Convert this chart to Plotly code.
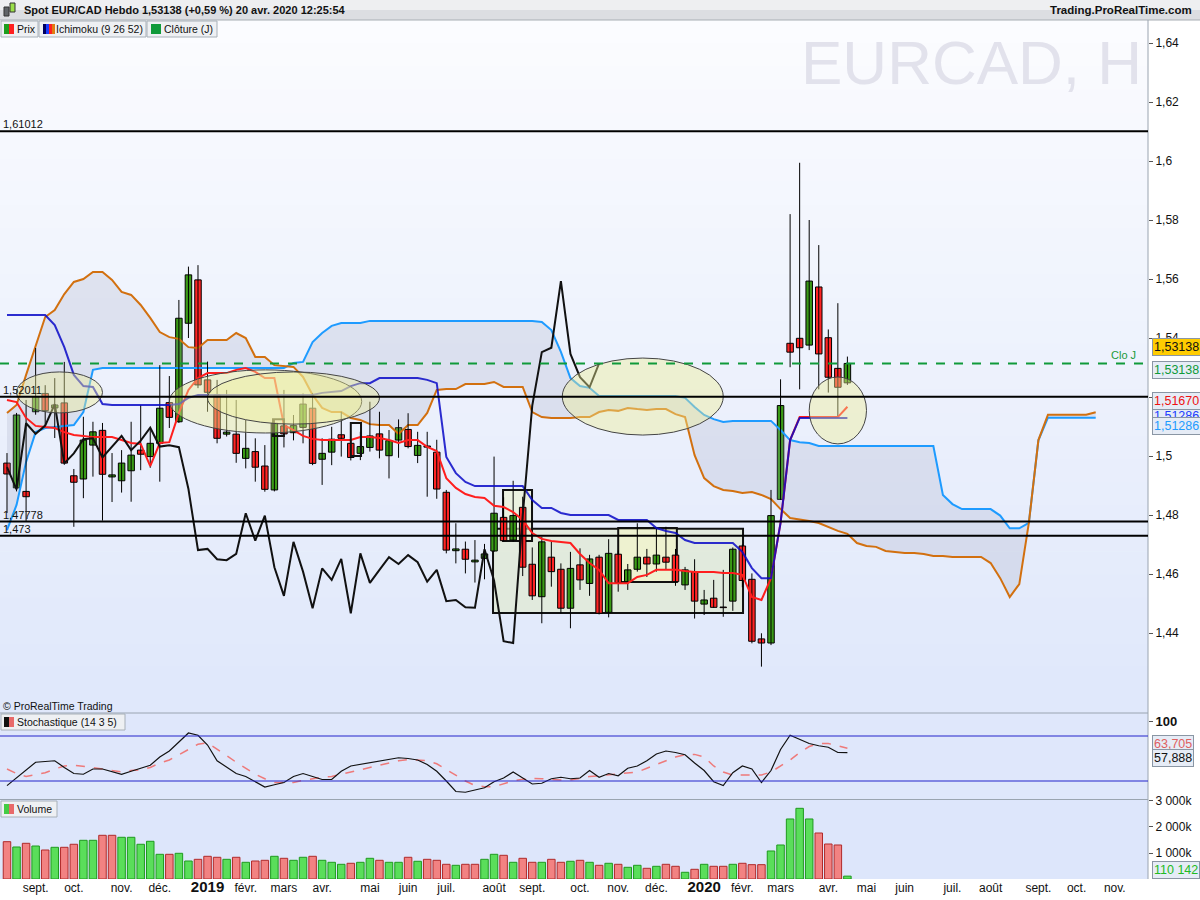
import plotly.graph_objects as go
import pandas as pd

# weekly EUR/CAD candles, week of 13 Aug 2018 -> week of 20 Apr 2020
opens = [1.4976, 1.4892, 1.4880, 1.5150, 1.5212, 1.5163, 1.5180, 1.4933, 1.4922, 1.5037,
         1.5087, 1.4929, 1.4916, 1.4950, 1.5020, 1.4998, 1.5043, 1.5181, 1.5116, 1.5450,
         1.5597, 1.5258, 1.5207, 1.5074, 1.5074, 1.4992, 1.5015, 1.4966, 1.4885, 1.5102,
         1.5079, 1.5097, 1.5162, 1.4989, 1.5013, 1.5072, 1.5043, 1.5009, 1.5029, 1.5075,
         1.5001, 1.5054, 1.5090, 1.5002, 1.5034, 1.5013, 1.4877, 1.4679, 1.4684, 1.4641,
         1.4653, 1.4678, 1.4792, 1.4715, 1.4826, 1.4633, 1.4523, 1.4657, 1.4616, 1.4484,
         1.4631, 1.4568, 1.4657, 1.4470, 1.4667, 1.4574, 1.4616, 1.4657, 1.4634, 1.4657,
         1.4664, 1.4563, 1.4608, 1.4498, 1.4518, 1.4488, 1.4508, 1.4695, 1.4582, 1.4380,
         1.4366, 1.4853, 1.5382, 1.5399, 1.5376, 1.5573, 1.5401, 1.5297, 1.5248]
highs = [1.5010, 1.5146, 1.5190, 1.5366, 1.5240, 1.5264, 1.5319, 1.4956, 1.5133, 1.5116,
         1.5112, 1.5010, 1.5020, 1.5116, 1.5173, 1.5090, 1.5308, 1.5271, 1.5529, 1.5642,
         1.5647, 1.5320, 1.5258, 1.5224, 1.5190, 1.5122, 1.5060, 1.5037, 1.5122, 1.5224,
         1.5139, 1.5212, 1.5213, 1.5060, 1.5099, 1.5150, 1.5053, 1.5082, 1.5184, 1.5150,
         1.5088, 1.5124, 1.5145, 1.5082, 1.5082, 1.5055, 1.4885, 1.4772, 1.4710, 1.4715,
         1.4702, 1.4998, 1.4860, 1.4916, 1.4862, 1.4690, 1.4726, 1.4709, 1.4636, 1.4675,
         1.4687, 1.4665, 1.4665, 1.4718, 1.4680, 1.4634, 1.4772, 1.4685, 1.4755, 1.4760,
         1.4685, 1.4624, 1.4650, 1.4546, 1.4580, 1.4614, 1.4690, 1.4700, 1.4602, 1.4399,
         1.4885, 1.5260, 1.5820, 1.5994, 1.5800, 1.5715, 1.5429, 1.5518, 1.5337]
lows = [1.4807, 1.4880, 1.4780, 1.5140, 1.5105, 1.5061, 1.4970, 1.4760, 1.4857, 1.4930,
        1.4781, 1.4844, 1.4876, 1.4845, 1.4952, 1.4960, 1.4913, 1.5095, 1.5112, 1.5400,
        1.5230, 1.5150, 1.5043, 1.5066, 1.4977, 1.4958, 1.4913, 1.4879, 1.4880, 1.5029,
        1.5053, 1.5043, 1.4969, 1.4902, 1.4969, 1.4998, 1.4985, 1.4986, 1.5015, 1.4992,
        1.4924, 1.4994, 1.5026, 1.4976, 1.4862, 1.4855, 1.4670, 1.4636, 1.4602, 1.4571,
        1.4582, 1.4675, 1.4710, 1.4709, 1.4593, 1.4512, 1.4433, 1.4557, 1.4467, 1.4416,
        1.4546, 1.4526, 1.4463, 1.4453, 1.4540, 1.4546, 1.4608, 1.4590, 1.4608, 1.4615,
        1.4560, 1.4546, 1.4449, 1.4461, 1.4485, 1.4455, 1.4475, 1.4555, 1.4365, 1.4286,
        1.4359, 1.4851, 1.5301, 1.5226, 1.5359, 1.5226, 1.5215, 1.5133, 1.5241]
closes = [1.4939, 1.5139, 1.4862, 1.5201, 1.5154, 1.5173, 1.4976, 1.4911, 1.5054, 1.5082,
          1.4938, 1.4936, 1.4976, 1.5003, 1.5006, 1.5043, 1.5162, 1.5131, 1.5467, 1.5614,
          1.5241, 1.5216, 1.5060, 1.5081, 1.5009, 1.5026, 1.4962, 1.4887, 1.5111, 1.5075,
          1.5103, 1.5176, 1.4975, 1.5009, 1.5057, 1.5060, 1.4995, 1.5032, 1.5068, 1.5020,
          1.5052, 1.5096, 1.5032, 1.5036, 1.5030, 1.4888, 1.4681, 1.4685, 1.4650, 1.4647,
          1.4668, 1.4806, 1.4713, 1.4798, 1.4623, 1.4526, 1.4709, 1.4608, 1.4484, 1.4619,
          1.4580, 1.4651, 1.4467, 1.4670, 1.4570, 1.4614, 1.4657, 1.4634, 1.4664, 1.4640,
          1.4574, 1.4614, 1.4508, 1.4512, 1.4487, 1.4486, 1.4684, 1.4578, 1.4372, 1.4366,
          1.4798, 1.5171, 1.5352, 1.5367, 1.5593, 1.5346, 1.5267, 1.5233, 1.53138]
volumes = [1435000, 1231000, 1373000, 1269000, 1115000, 1219000, 1219000, 1335000, 1488000, 1488000,
           1680000, 1680000, 1604000, 1604000, 1335000, 1450000, 950000, 950000, 988000, 692000,
           757000, 873000, 835000, 757000, 835000, 642000, 692000, 719000, 873000, 796000,
           719000, 835000, 873000, 719000, 642000, 565000, 604000, 642000, 796000, 719000,
           642000, 642000, 835000, 681000, 757000, 719000, 565000, 527000, 565000, 565000,
           757000, 950000, 911000, 642000, 796000, 642000, 642000, 757000, 642000, 681000,
           719000, 642000, 527000, 604000, 565000, 450000, 527000, 411000, 488000, 565000,
           488000, 258000, 373000, 565000, 488000, 488000, 565000, 604000, 551000, 551000,
           1077000, 1308000, 2308000, 2718000, 2308000, 1769000, 1346000, 1308000, 110142]

# stochastic (14 3 5)
stoch_k = [13.8, 24, 35, 45, 46, 47, 38, 30, 29, 36,
           36, 33, 29, 33, 37, 41, 52, 60, 72, 84,
           81, 68, 47, 39, 30, 26, 19, 12, 15, 18,
           26, 30, 26, 22, 22, 33, 40, 42, 45, 47,
           49, 51, 50, 48, 42, 33, 20, 6, 5, 8,
           11, 19, 24, 32, 24, 16, 17, 23, 25, 23,
           24, 34, 25, 30, 27, 37, 40, 47, 56, 60,
           58, 55, 44, 34, 19, 14, 31, 40, 36, 18,
           34, 62, 81, 76, 70, 67, 65, 58, 57.888]
stoch_d = [36, 30, 26, 28, 31, 36, 40, 41, 40, 38,
           36, 34, 32, 34, 35, 38, 44, 48, 55, 62,
           69, 71, 63, 54, 45, 37, 29, 23, 18, 18,
           18, 21, 23.5, 25, 26, 29, 33, 36, 39, 41,
           44, 47, 48.5, 48, 47, 43, 35, 27, 20, 14,
           12.4, 12.4, 16, 20, 22.5, 23.5, 23, 22, 21.5, 21.3,
           24, 26, 27, 28, 29, 30.5, 32, 37, 42, 48,
           52, 55, 55.5, 52, 40, 32, 28, 28, 28, 28,
           32, 40, 48, 58, 66, 70, 70, 67, 63.705]

# Ichimoku (9 26 52) as drawn
tenkan = [1.5190, 1.5183, 1.5129, 1.5102, 1.5098, 1.5095, 1.5081, 1.5071, 1.5068, 1.5064,
          1.5064, 1.5064, 1.5054, 1.5044, 1.5041, 1.4966, 1.5044, 1.5047, 1.5146, 1.5224,
          1.5264, 1.5281, 1.5281, 1.5281, 1.5292, 1.5298, 1.5285, 1.5264, 1.5264, 1.5105,
          1.5088, 1.5068, 1.5058, 1.5054, 1.5054, 1.5054, 1.5054, 1.5064, 1.5064, 1.5061,
          1.5054, 1.5044, 1.5054, 1.5054, 1.5031, 1.5017, 1.4925, 1.4892, 1.4871, 1.4861,
          1.4858, 1.4831, 1.4827, 1.4810, 1.4783, 1.4739, 1.4719, 1.4712, 1.4708, 1.4705,
          1.4668, 1.4637, 1.4614, 1.4569, 1.4569, 1.4569, 1.4590, 1.4597, 1.4614, 1.4614,
          1.4614, 1.4610, 1.4607, 1.4607, 1.4607, 1.4603, 1.4603, 1.4597, 1.4522, 1.4512,
          1.4586, 1.4773, 1.5054, 1.5132, 1.5132, 1.5132, 1.5132, 1.5132, 1.5167]
kijun = [1.5478] * 5 + [1.5444, 1.5369, 1.5275, 1.5237, 1.5234, 1.5176] + [1.5173] * 7 + \
        [1.5176, 1.5197] + [1.5207] * 13 + [1.5214, 1.5217, 1.5220, 1.5237, 1.5247, 1.5247] + \
        [1.5264] * 5 + [1.5258, 1.5247, 1.4997, 1.4942, 1.4912] + [1.4898] * 6 + \
        [1.4851, 1.4824, 1.4824, 1.4807] + [1.4800] * 5 + [1.4783] * 4 + \
        [1.4756, 1.4746, 1.4739, 1.4715] + [1.4705] * 5 + \
        [1.4675, 1.4620, 1.4586, 1.4586, 1.4773, 1.5054] + [1.5129] * 6
# leading spans, 26 weeks ahead of the last candle
span_a = [1.5146, 1.5173, 1.5275, 1.5376, 1.5471, 1.5495, 1.5549, 1.5590, 1.5600, 1.5624,
          1.5624, 1.5597, 1.5556, 1.5546, 1.5512, 1.5468, 1.5420, 1.5403, 1.5397, 1.5369,
          1.5366, 1.5393, 1.5393, 1.5393, 1.5417, 1.5400, 1.5336, 1.5336, 1.5308, 1.5305,
          1.5302, 1.5268, 1.5207, 1.5163, 1.5149, 1.5149, 1.5129, 1.5122, 1.5108, 1.5105,
          1.5105, 1.5075, 1.5105, 1.5105, 1.5146, 1.5224, 1.5227, 1.5227, 1.5244, 1.5244,
          1.5244, 1.5251, 1.5234, 1.5234, 1.5234, 1.5149, 1.5132, 1.5129, 1.5129, 1.5129,
          1.5132, 1.5132, 1.5149, 1.5156, 1.5153, 1.5163, 1.5159, 1.5156, 1.5159, 1.5159,
          1.5142, 1.5132, 1.5003, 1.4925, 1.4898, 1.4885, 1.4881, 1.4875, 1.4878, 1.4868,
          1.4854, 1.4820, 1.4790, 1.4786, 1.4780, 1.4773, 1.4759, 1.4746, 1.4736, 1.4705,
          1.4695, 1.4692, 1.4678, 1.4675, 1.4671, 1.4671, 1.4668, 1.4661, 1.4661, 1.4658,
          1.4658, 1.4658, 1.4658, 1.4637, 1.4586, 1.4522, 1.4566, 1.4773, 1.5054, 1.5140,
          1.5140, 1.5140, 1.5140, 1.5140, 1.5148]
span_b = [1.4749, 1.4834, 1.4980, 1.5081, 1.5095, 1.5098, 1.5102, 1.5105, 1.5149, 1.5292] + \
         [1.5298] * 20 + [1.5315, 1.5319, 1.5386, 1.5417, 1.5441, 1.5451, 1.5451, 1.5451, 1.5458] + \
         [1.5458] * 17 + [1.5454, 1.5427, 1.5353, 1.5264, 1.5237, 1.5231] + [1.5203] * 9 + \
         [1.5197, 1.5166, 1.5139, 1.5125, 1.5115] + [1.5119] * 5 + \
         [1.5088, 1.5054, 1.5047, 1.5044] + [1.5034] * 13 + [1.4868, 1.4837] + [1.4820] * 4 + \
         [1.4798, 1.4755, 1.4755, 1.4773, 1.5053] + [1.5130] * 6

levels = [1.61012, 1.52011, 1.47778, 1.473]
level_labels = ['1,61012', '1,52011', '1,47778', '1,473']
close_j = 1.53138

# drawings on the chart: (start, end, low, high)
ellipses = [
    ('2018-08-20', '2018-10-22', 1.5146, 1.5285),
    ('2018-12-10', '2019-04-30', 1.5078, 1.5292),
    ('2019-01-07', '2019-05-13', 1.5108, 1.5285),
    ('2019-09-24', '2020-01-20', 1.5071, 1.5332),
    ('2020-03-23', '2020-05-04', 1.5041, 1.5268),
]
boxes = [
    ('2019-08-04 06:00', '2020-02-03 12:00', 1.4468, 1.4753, 'rgba(224,234,208,0.7)'),
    ('2019-08-11 14:00', '2019-09-01 20:00', 1.4712, 1.4885, 'rgba(236,244,205,0.6)'),
    ('2019-11-04', '2019-12-17', 1.4573, 1.4756, 'rgba(246,246,200,0.6)'),
    ('2019-02-24', '2019-03-04', 1.5068, 1.5125, None),
    ('2019-04-22', '2019-04-29 12:00', 1.5000, 1.5112, None),
]

month_ticks = ['2018-09-03', '2018-10-01', '2018-11-05', '2018-12-03', '2019-01-07', '2019-02-04',
               '2019-03-04', '2019-04-01', '2019-05-06', '2019-06-03', '2019-07-01', '2019-08-05',
               '2019-09-02', '2019-10-07', '2019-11-04', '2019-12-02', '2020-01-06', '2020-02-03',
               '2020-03-02', '2020-04-06', '2020-05-04', '2020-06-01', '2020-07-06', '2020-08-03',
               '2020-09-07', '2020-10-05', '2020-11-02']
month_labels = ['sept.', 'oct.', 'nov.', 'déc.', '2019', 'févr.', 'mars', 'avr.', 'mai', 'juin',
                'juil.', 'août', 'sept.', 'oct.', 'nov.', 'déc.', '2020', 'févr.', 'mars', 'avr.',
                'mai', 'juin', 'juil.', 'août', 'sept.', 'oct.', 'nov.']

price_ticks = [1.44, 1.46, 1.48, 1.50, 1.52, 1.54, 1.56, 1.58, 1.60, 1.62, 1.64]
price_labels = ['1,44', '1,46', '1,48', '1,5', '1,52', '1,54', '1,56', '1,58', '1,6', '1,62', '1,64']

weeks = pd.date_range('2018-08-13', periods=len(span_a), freq='7D')
dates = weeks[:len(closes)]

FONT = 'Liberation Sans, Arial, sans-serif'
GREEN, RED = '#3a9a16', '#ff2424'
DAY_MS = 86400000

# pixel helpers for the page furniture (plot area is 1148 x 859 starting at y=20)
PW, PH, PB = 1148, 859, 879


def fx(px):
    return px / PW


def fy(py):
    return (PB - py) / PH


fig = go.Figure()

# cloud
fig.add_trace(go.Scatter(x=weeks, y=span_b, mode='lines', line=dict(color='#1e9bff', width=2),
                         yaxis='y'))
fig.add_trace(go.Scatter(x=weeks, y=span_a, mode='lines', line=dict(color='#d2700f', width=2),
                         fill='tonexty', fillcolor='rgba(150,155,185,0.2)', yaxis='y'))

# wicks
wx, wy = [], []
for d, h, l in zip(dates, highs, lows):
    wx += [d, d, None]
    wy += [l, h, None]
fig.add_trace(go.Scatter(x=wx, y=wy, mode='lines', line=dict(color='black', width=1), yaxis='y'))

# bodies
up = [i for i in range(len(closes)) if closes[i] >= opens[i]]
dn = [i for i in range(len(closes)) if closes[i] < opens[i]]
body_w = 4.76 * DAY_MS
fig.add_trace(go.Bar(x=[dates[i] for i in up], base=[opens[i] for i in up],
                     y=[max(closes[i] - opens[i], 0.00015) for i in up], width=body_w,
                     marker=dict(color=GREEN, line=dict(color='black', width=1)), yaxis='y'))
fig.add_trace(go.Bar(x=[dates[i] for i in dn], base=[closes[i] for i in dn],
                     y=[max(opens[i] - closes[i], 0.00015) for i in dn], width=body_w,
                     marker=dict(color=RED, line=dict(color='black', width=1)), yaxis='y'))

# tenkan / kijun / chikou
fig.add_trace(go.Scatter(x=dates, y=tenkan, mode='lines', line=dict(color='#ff1e1e', width=2), yaxis='y'))
fig.add_trace(go.Scatter(x=dates, y=kijun, mode='lines', line=dict(color='#0a0ac8', width=2),
                         opacity=0.85, yaxis='y'))
lag = 26
fig.add_trace(go.Scatter(x=dates[:len(closes) - lag], y=closes[lag:], mode='lines',
                         line=dict(color='#111111', width=2), yaxis='y'))

# stochastic
fig.add_trace(go.Scatter(x=dates, y=stoch_d, mode='lines',
                         line=dict(color='#ee7a7a', width=1.5, dash='dash'), yaxis='y2'))
fig.add_trace(go.Scatter(x=dates, y=stoch_k, mode='lines', line=dict(color='#111111', width=1.2),
                         yaxis='y2'))

# volume, coloured by close vs previous close
vol_fill, vol_line = [], []
for i, c in enumerate(closes):
    rising = i > 0 and c >= closes[i - 1]
    vol_fill.append('#5ade5a' if rising else '#f28282')
    vol_line.append('#1e9a1e' if rising else '#b02a2a')
fig.add_trace(go.Bar(x=dates, y=volumes, width=5.5 * DAY_MS,
                     marker=dict(color=vol_fill, line=dict(color=vol_line, width=1)), yaxis='y3'))

shapes = []


def prect(x0, y0, x1, y1, fill, line=None, layer='below'):
    shapes.append(dict(type='rect', xref='paper', yref='paper', x0=fx(x0), x1=fx(x1),
                       y0=fy(y1), y1=fy(y0), fillcolor=fill, layer=layer,
                       line=dict(width=1 if line else 0, color=line or 'rgba(0,0,0,0)')))


# panel backgrounds
n = 30
for k in range(n):
    t = k / (n - 1)
    r = int(251 - 27 * t)
    g = int(252 - 20 * t)
    b = int(255 - 4 * t)
    y0 = 20 + (713 - 20) * k / n
    y1 = 20 + (713 - 20) * (k + 1) / n + 0.5
    prect(0, y0, PW, y1, 'rgb(%d,%d,%d)' % (r, g, b))
prect(0, 713, PW, 799, '#dfe7fb')
prect(0, 800, PW, 879, '#dde6fb')

# title bar
prect(0, 0, 1200, 10, '#eeeff1', layer='above')
prect(0, 10, 1200, 20, '#dcdee2', layer='above')
shapes.append(dict(type='line', xref='paper', yref='paper', x0=0, x1=fx(1200), y0=fy(20), y1=fy(20),
                   line=dict(color='#a8aeb4', width=1)))
prect(4, 7, 9, 16, '#606468', '#333', layer='above')
prect(10, 3, 15, 12, '#9be04a', '#333', layer='above')

# separators and right axis line
for yy in (713, 799.5):
    shapes.append(dict(type='line', xref='paper', yref='paper', x0=0, x1=1, y0=fy(yy), y1=fy(yy),
                       line=dict(color='#9aa4b0', width=1)))
shapes.append(dict(type='line', xref='paper', yref='paper', x0=1, x1=1, y0=0, y1=fy(20),
                   line=dict(color='#9aa4b0', width=1)))

# stochastic bounds
for v in (80, 20):
    shapes.append(dict(type='line', xref='paper', yref='y2', x0=0, x1=1, y0=v, y1=v,
                       line=dict(color='#2424cc', width=1.2)))

# drawings
for x0, x1, lo, hi, fill in boxes:
    shapes.append(dict(type='rect', xref='x', yref='y', x0=x0, x1=x1, y0=lo, y1=hi,
                       fillcolor=fill or 'rgba(0,0,0,0)', line=dict(color='#111', width=2),
                       layer='below' if fill else 'above'))
for x0, x1, lo, hi in ellipses:
    shapes.append(dict(type='circle', xref='x', yref='y', x0=x0, x1=x1, y0=lo, y1=hi,
                       fillcolor='rgba(238,238,150,0.42)', line=dict(color='#444', width=1),
                       layer='above'))
for lv in levels:
    shapes.append(dict(type='line', xref='paper', yref='y', x0=0, x1=1, y0=lv, y1=lv,
                       line=dict(color='#000', width=2)))
shapes.append(dict(type='line', xref='paper', yref='y', x0=0, x1=1, y0=close_j, y1=close_j,
                   line=dict(color='#109a3a', width=2, dash='dash')))

# legend chips
prect(1, 21, 38, 37, '#eef0f3', '#a8b0b8', layer='above')
prect(4, 24, 9, 34, '#1e9e1e', layer='above')
prect(9, 24, 14, 34, '#ff2020', layer='above')
prect(39, 21, 146, 37, '#eef0f3', '#a8b0b8', layer='above')
for j, c in enumerate(['#000060', '#1a3cff', '#ff2020', '#e07b10']):
    prect(43 + 3 * j, 24, 46 + 3 * j, 34, c, layer='above')
prect(147, 21, 217, 37, '#eef0f3', '#a8b0b8', layer='above')
prect(151, 24, 161, 34, '#109a3a', layer='above')
prect(1, 714, 125, 730, '#eef0f3', '#a8b0b8', layer='above')
prect(4, 717, 9, 727, '#111111', layer='above')
prect(9, 717, 14, 727, '#e86a6a', layer='above')
prect(1, 801, 57, 817, '#eef0f3', '#a8b0b8', layer='above')
prect(4, 804, 9, 814, '#44cc44', layer='above')
prect(9, 804, 14, 814, '#e86a6a', layer='above')

ann = []


def ptext(x, y, text, size=12, color='#111', anchor='left', bold=False):
    ann.append(dict(xref='paper', yref='paper', x=fx(x), y=fy(y), text='<b>%s</b>' % text if bold else text,
                    showarrow=False, xanchor=anchor, yanchor='middle',
                    font=dict(family=FONT, size=size, color=color)))


ptext(22, 10, 'Spot EUR/CAD Hebdo 1,53138 (+0,59 %) 20 avr. 2020 12:25:54', 11, bold=True)
ptext(1194, 10, 'Trading.ProRealTime.com', 11.5, anchor='right', bold=True)
ptext(15, 29, 'Prix', 10.5)
ptext(54, 29, 'Ichimoku (9 26 52)', 10.5)
ptext(162, 29, 'Clôture (J)', 10.5)
ptext(15, 722, 'Stochastique (14 3 5)', 10.5)
ptext(15, 809, 'Volume', 10.5)
ptext(1, 706, '© ProRealTime Trading', 10.5)
ptext(971, 62, 'EURCAD, H', 62, color='#e2e2ec', anchor='center')

for lv, lab in zip(levels, level_labels):
    ann.append(dict(xref='paper', yref='y', x=fx(1), y=lv, text=lab, showarrow=False,
                    xanchor='left', yanchor='bottom', yshift=-1,
                    font=dict(family=FONT, size=11, color='#111')))
ann.append(dict(xref='paper', yref='y', x=fx(1138), y=close_j, text='Clo J', showarrow=False,
                xanchor='right', yanchor='bottom', font=dict(family=FONT, size=11, color='#1a9a3a')))


def badge(text, yval, yref, shift, color, bg='#e6ecf6'):
    ann.append(dict(xref='paper', yref=yref, x=fx(1152), y=yval, text=text, showarrow=False,
                    xanchor='left', yanchor='middle', yshift=shift, bgcolor=bg,
                    bordercolor='#8a96a4', borderwidth=1, borderpad=1,
                    font=dict(family=FONT, size=12.5, color=color)))


badge('1,51478', 1.51478, 'y', -1, '#e07b10')
badge('1,51286', 1.51286, 'y', 2, '#1a3cff')
badge('1,51670', 1.51670, 'y', 6, '#ee1111')
badge('1,51286', 1.51286, 'y', -8, '#1e9bff')
badge('1,53138', close_j, 'y', 16, '#111', bg='#ffcc00')
badge('1,53138', close_j, 'y', -7, '#109a3a')
badge('63,705', stoch_d[-1], 'y2', 4, '#e06060')
badge('57,888', stoch_k[-1], 'y2', -5, '#111')
badge('110 142', volumes[-1], 'y3', 6, '#22bb22')

ticktext_x = ['<span style="font-size:15px"><b>%s</b></span>' % m if m.isdigit() else m
              for m in month_labels]

axis_font = dict(family=FONT, size=12, color='#111')
fig.update_layout(
    width=1200, height=900,
    margin=dict(l=0, r=52, t=20, b=21),
    paper_bgcolor='white', plot_bgcolor='rgba(0,0,0,0)',
    showlegend=False, hovermode=False, barmode='overlay',
    separators=', ',
    font=dict(family=FONT, size=12, color='#111'),
    xaxis=dict(type='date', range=['2018-08-07 21:00', '2020-11-26 08:00'], domain=[0, 1],
               anchor='y3', tickvals=month_ticks, ticktext=ticktext_x, ticks='',
               showgrid=False, zeroline=False, showline=False, tickfont=axis_font, fixedrange=True),
    yaxis=dict(domain=[fy(713), 1], range=[1.41288, 1.64780], side='right', anchor='x',
               tickvals=price_ticks, ticktext=price_labels, ticks='outside', ticklen=4,
               tickcolor='#555', showgrid=False, zeroline=False, tickfont=axis_font),
    yaxis2=dict(domain=[fy(799), fy(713)], range=[-4, 110.7], side='right', anchor='x',
                tickvals=[100], ticktext=['<b>100</b>'], ticks='outside', ticklen=4,
                tickcolor='#555', showgrid=False, zeroline=False,
                tickfont=dict(family=FONT, size=13, color='#111')),
    yaxis3=dict(domain=[0, fy(800)], range=[0, 3038000], side='right', anchor='x',
                tickvals=[1000000, 2000000, 3000000], ticktext=['1 000k', '2 000k', '3 000k'],
                ticks='outside', ticklen=4, tickcolor='#555', showgrid=False, zeroline=False,
                tickfont=axis_font),
    shapes=shapes,
    annotations=ann,
)

fig.write_html("out.html", config={'displayModeBar': False},
               post_script="document.body.style.margin='0px';document.body.style.overflow='hidden';")
